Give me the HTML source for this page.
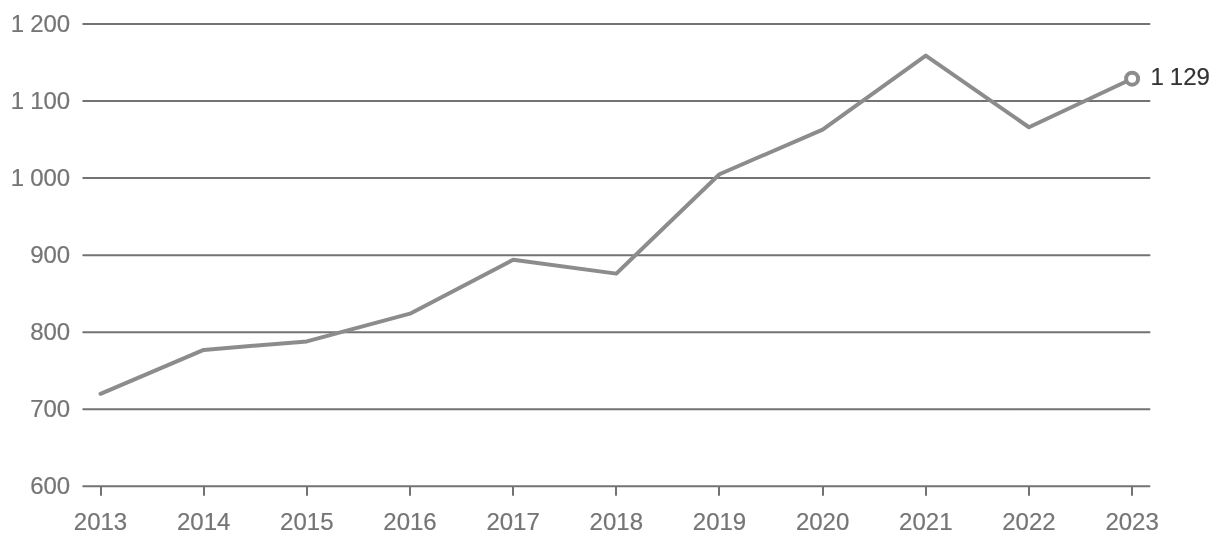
<!DOCTYPE html>
<html lang="en"><head><meta charset="utf-8"><title>Chart</title>
<style>html,body{margin:0;padding:0;background:#fff;}svg{display:block;}text{font-family:"Liberation Sans",sans-serif;font-size:24px;word-spacing:-0.66px;stroke-width:0.2px;}</style></head><body>
<svg width="1220" height="548" viewBox="0 0 1220 548">
<rect width="1220" height="548" fill="#ffffff"/>
<g stroke="#737373" stroke-width="2" fill="none" stroke-linecap="round">
<line x1="83.25" y1="24" x2="1149.5" y2="24"/>
<line x1="83.25" y1="101" x2="1149.5" y2="101"/>
<line x1="83.25" y1="178" x2="1149.5" y2="178"/>
<line x1="83.25" y1="255.25" x2="1149.5" y2="255.25"/>
<line x1="83.25" y1="332.25" x2="1149.5" y2="332.25"/>
<line x1="83.25" y1="409.25" x2="1149.5" y2="409.25"/>
<line x1="83.25" y1="486.25" x2="1149.5" y2="486.25"/>
</g>
<g stroke="#737373" stroke-width="2" fill="none">
<line x1="101" y1="486.25" x2="101" y2="495.75"/>
<line x1="204" y1="486.25" x2="204" y2="495.75"/>
<line x1="307" y1="486.25" x2="307" y2="495.75"/>
<line x1="410" y1="486.25" x2="410" y2="495.75"/>
<line x1="513" y1="486.25" x2="513" y2="495.75"/>
<line x1="616" y1="486.25" x2="616" y2="495.75"/>
<line x1="719" y1="486.25" x2="719" y2="495.75"/>
<line x1="823" y1="486.25" x2="823" y2="495.75"/>
<line x1="926" y1="486.25" x2="926" y2="495.75"/>
<line x1="1029" y1="486.25" x2="1029" y2="495.75"/>
<line x1="1132" y1="486.25" x2="1132" y2="495.75"/>
</g>
<g fill="#757575" stroke="#757575" text-anchor="end">
<text x="70.2" y="31.6">1 200</text>
<text x="70.2" y="108.6">1 100</text>
<text x="70.2" y="185.6">1 000</text>
<text x="70.2" y="262.6">900</text>
<text x="70.2" y="339.6">800</text>
<text x="70.2" y="416.6">700</text>
<text x="70.2" y="493.6">600</text>
</g>
<g fill="#757575" stroke="#757575" text-anchor="middle">
<text x="100.5" y="530">2013</text>
<text x="203.7" y="530">2014</text>
<text x="306.8" y="530">2015</text>
<text x="410.0" y="530">2016</text>
<text x="513.1" y="530">2017</text>
<text x="616.3" y="530">2018</text>
<text x="719.5" y="530">2019</text>
<text x="822.6" y="530">2020</text>
<text x="925.8" y="530">2021</text>
<text x="1028.9" y="530">2022</text>
<text x="1132.1" y="530">2023</text>
</g>
<polyline points="100.50,393.80 203.66,349.89 306.82,341.41 409.98,313.68 513.14,259.75 616.30,273.62 719.46,174.23 822.62,129.55 925.78,55.59 1028.94,127.24 1132.10,78.70" fill="none" stroke="#8c8c8c" stroke-width="4" stroke-linecap="round" stroke-linejoin="round"/>
<circle cx="1132.10" cy="78.70" r="6" fill="#ffffff" stroke="#8c8c8c" stroke-width="4"/>
<text x="1150.5" y="85" fill="#333333" stroke="#333333">1 129</text>
</svg></body></html>
